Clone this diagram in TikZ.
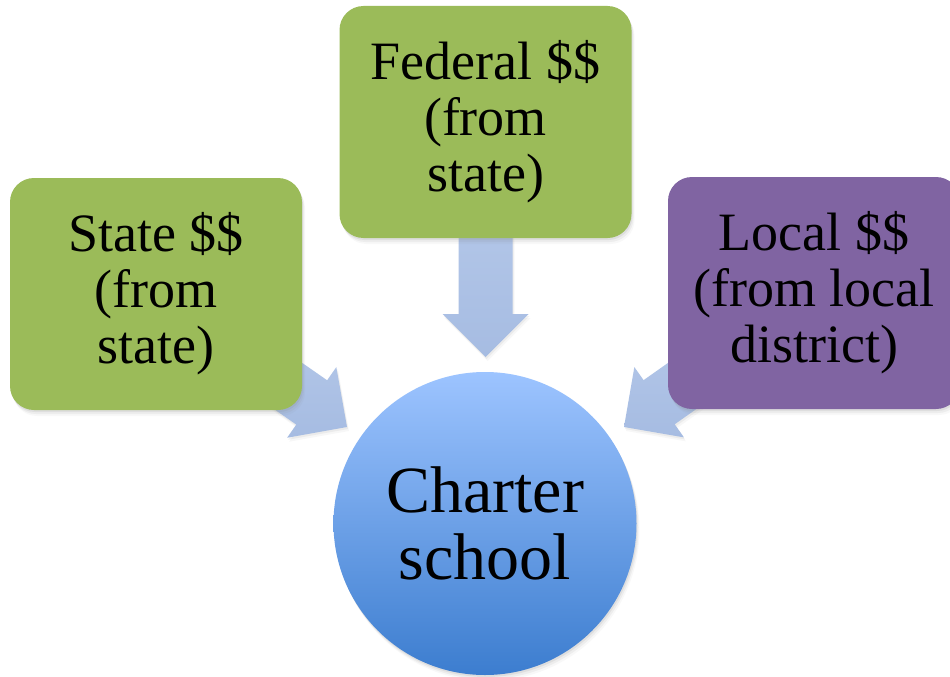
\documentclass[tikz,border=0pt]{standalone}
\usepackage{fontspec}
\setmainfont{Liberation Serif}
\usetikzlibrary{calc,shadows}
\pgfdeclarelayer{background}
\pgfsetlayers{background,main}
\definecolor{boxgreen}{RGB}{155,187,89}
\definecolor{boxpurple}{RGB}{128,100,162}
\definecolor{arrtop}{RGB}{187,205,236}
\definecolor{arrbot}{RGB}{166,188,226}
\definecolor{circtop}{RGB}{157,196,255}
\definecolor{circbot}{RGB}{60,125,207}
\newcommand{\blockarr}[2]{%
  \coordinate (hb) at ($(#2)!43pt!(#1)$);
  \path[arrowfill]
    ($(#1)!27pt!90:(#2)$) -- ($(hb)!27pt!90:(#2)$) -- ($(hb)!43pt!90:(#2)$) --
    (#2) --
    ($(hb)!43pt!-90:(#2)$) -- ($(hb)!27pt!-90:(#2)$) -- ($(#1)!27pt!-90:(#2)$) -- cycle;
}
\begin{document}
\begin{tikzpicture}[x=1pt,y=-1pt,
  softshadow/.style={
    drop shadow={shadow xshift=1pt,shadow yshift=-2pt,opacity=.12},
    drop shadow={shadow xshift=2pt,shadow yshift=-4pt,opacity=.09},
    drop shadow={shadow xshift=3pt,shadow yshift=-6pt,opacity=.05}},
  box/.style={rounded corners=24pt, minimum width=292pt, minimum height=232pt,
    inner sep=0pt, align=center, font=\fontsize{54}{56}\selectfont, softshadow},
  hub/.style={circle, minimum size=303pt, inner sep=0pt, align=center,
    top color=circtop, bottom color=circbot,
    font=\fontsize{66}{67}\selectfont, softshadow},
  arrowfill/.style={top color=arrtop, bottom color=arrbot,
    drop shadow={shadow xshift=1pt,shadow yshift=-2pt,opacity=.10},
    drop shadow={shadow xshift=2pt,shadow yshift=-4pt,opacity=.06}}]
\useasboundingbox (0,0) rectangle (950,677);
\node[box, fill=boxgreen] (st) at (156,294) {State \$\$\\(from\\state)};
\node[box, fill=boxgreen] (fed) at (485.5,122) {Federal \$\$\\(from\\state)};
\node[box, fill=boxpurple] (loc) at (814,293) {Local \$\$\\(from local\\district)};
\node[hub] (cs) at (485,523.5) {Charter\\school};
\coordinate (tipst) at (347,427);
\coordinate (tipfed) at (485.5,357);
\coordinate (tiploc) at (624,427);
\begin{pgfonlayer}{background}
\fill[white] (0,0) rectangle (950,677);
\blockarr{st.center}{tipst}
\blockarr{fed.center}{tipfed}
\blockarr{loc.center}{tiploc}
\end{pgfonlayer}
\end{tikzpicture}
\end{document}
